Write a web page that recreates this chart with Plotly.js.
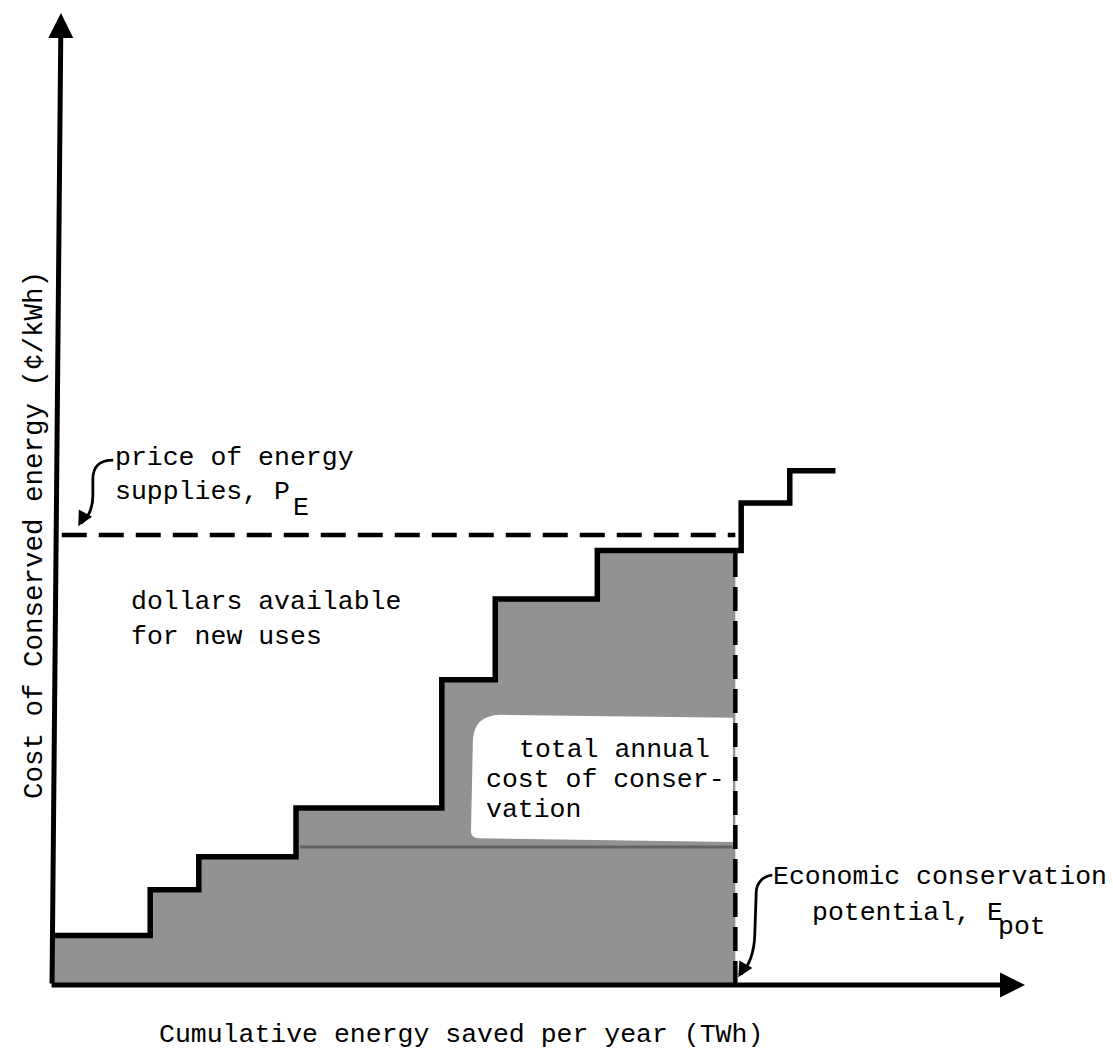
<!DOCTYPE html>
<html>
<head>
<meta charset="utf-8">
<script src="https://cdn.plot.ly/plotly-3.0.1.min.js"></script>
<style>
  html, body { margin: 0; padding: 0; background: #ffffff; }
  #chart { width: 1113px; height: 1050px; }
</style>
</head>
<body>
<div id="chart"></div>
<script>
// ---- data (arbitrary units, no tick values shown) ----
const stepStart = [0, 10, 15, 25, 40, 45.5, 56, 70.8, 75.8];          // cumulative energy saved at the start of each measure
const stepCost  = [5.1, 9.8, 13.2, 18.2, 31.4, 39.7, 44.7, 49.6, 52.9]; // cost of conserved energy of each measure
const curveEnd  = 80.5;          // end of the last measure
const priceEnergy = [46.3];      // price of energy supplies, P_E
const potentialE  = [70.2];      // economic conservation potential, E_pot

const FONT = 'Liberation Mono, DejaVu Sans Mono, monospace';
const FS = 26.5;

// step line (whole supply curve)
const lineX = stepStart.concat([curveEnd]);
const lineY = stepCost.concat([stepCost[stepCost.length - 1]]);

// shaded area: steps up to E_pot
const fillX = [], fillY = [];
for (let i = 0; i < stepStart.length; i++) {
  if (stepStart[i] < potentialE[0]) { fillX.push(stepStart[i]); fillY.push(stepCost[i]); }
}
fillX.push(potentialE[0]); fillY.push(fillY[fillY.length - 1]);

const costAtPot = fillY[fillY.length - 1];

const traces = [
  { x: fillX, y: fillY, type: 'scatter', mode: 'lines', line: { shape: 'hv', width: 0, color: 'rgba(0,0,0,0)' },
    fill: 'tozeroy', fillcolor: '#929292', hoverinfo: 'skip', showlegend: false },
  { x: [0.9, potentialE[0]], y: [priceEnergy[0], priceEnergy[0]], type: 'scatter', mode: 'lines',
    line: { color: '#000', width: 4.5, dash: '25px,12px' }, hoverinfo: 'skip', showlegend: false },
  { x: [potentialE[0], potentialE[0]], y: [0, costAtPot], type: 'scatter', mode: 'lines',
    line: { color: '#000', width: 4.5, dash: '24px,10px' }, hoverinfo: 'skip', showlegend: false },
  { x: lineX, y: lineY, type: 'scatter', mode: 'lines', line: { shape: 'hv', color: '#000', width: 5.5 },
    hoverinfo: 'skip', showlegend: false }
];

function txt(text, x, y, extra) {
  return Object.assign({ text: text, x: x, y: y, xref: 'x', yref: 'y', xanchor: 'left', yanchor: 'middle',
    showarrow: false, font: { family: FONT, size: FS, color: '#000' } }, extra || {});
}

const annotations = [
  // axes with arrows
  { x: 100, y: 0, ax: -0.3, ay: 0, axref: 'x', ayref: 'y', xref: 'x', yref: 'y', text: '',
    showarrow: true, arrowhead: 2, arrowwidth: 5, arrowsize: 1, arrowcolor: '#000' },
  { x: 0.82, y: 100, ax: -0.1, ay: 0, axref: 'x', ayref: 'y', xref: 'x', yref: 'y', text: '',
    showarrow: true, arrowhead: 2, arrowwidth: 5, arrowsize: 1, arrowcolor: '#000' },
  // small arrowheads of the curly pointers
  { x: 2.6, y: 47.2, ax: 6, ay: -11, xref: 'x', yref: 'y', text: '', showarrow: true,
    arrowhead: 2, arrowwidth: 2.5, arrowsize: 1.2, arrowcolor: '#000' },
  { x: 70.5, y: 0.8, ax: 7, ay: -12, xref: 'x', yref: 'y', text: '', showarrow: true,
    arrowhead: 2, arrowwidth: 2.5, arrowsize: 1.2, arrowcolor: '#000' },
  // labels
  txt('price of energy', 6.2, 54.2),
  txt('supplies, P', 6.2, 50.7),
  txt('E', 24.5, 49.1),
  txt('dollars available', 7.8, 39.4),
  txt('for new uses', 7.8, 35.8),
  txt('total annual', 47.7, 24.2),
  txt('cost of conser-', 44.3, 21.1),
  txt('vation', 44.3, 18.0),
  txt('Economic conservation', 73.9, 11.1),
  txt('potential, E', 77.9, 7.4),
  txt('pot', 97.0, 6.0),
  // axis titles (paper-referenced so they can sit outside the plotting area)
  txt('Cumulative energy saved per year (TWh)', 0.42, -0.051, { xref: 'paper', yref: 'paper', xanchor: 'center' }),
  txt('Cost of Conserved energy (¢/kWh)', -0.0185, 0.463, { xref: 'paper', yref: 'paper', xanchor: 'center',
    textangle: -90, font: { family: FONT, size: 27.5, color: '#000' } })
];

const shapes = [
  // white cut-out inside the shaded area
  { type: 'path', xref: 'x', yref: 'y', layer: 'above', line: { width: 0 }, fillcolor: '#ffffff',
    path: 'M 69.95,27.5 L 46.0,27.8 Q 43.3,27.7 43.2,25.2 L 43.0,15.7 Q 43.1,15.1 43.9,15.1 L 69.95,14.7 Z' },
  // scan streak
  { type: 'line', xref: 'x', yref: 'y', layer: 'above', x0: 25.4, x1: 69.9, y0: 14.2, y1: 14.2,
    line: { color: 'rgba(40,40,40,0.45)', width: 3 } },
  // curly pointer for P_E
  { type: 'path', xref: 'x', yref: 'y', layer: 'above', line: { color: '#000', width: 2.8 },
    path: 'M 6.2,54.0 C 4.6,54.0 4.1,53.2 4.1,52.0 L 4.1,50.3 C 4.1,49.0 3.6,48.1 2.9,47.5' },
  // curly pointer for E_pot
  { type: 'path', xref: 'x', yref: 'y', layer: 'above', line: { color: '#000', width: 2.8 },
    path: 'M 74.0,11.3 C 73.1,11.2 72.4,10.6 72.35,9.6 L 72.2,5.2 C 72.15,3.5 71.6,2.0 70.8,1.1' }
];

const layout = {
  width: 1113, height: 1050,
  margin: { l: 53, r: 88, t: 13, b: 65, pad: 0 },
  paper_bgcolor: '#ffffff', plot_bgcolor: '#ffffff',
  xaxis: { range: [0, 100], visible: false, fixedrange: true },
  yaxis: { range: [0, 100], visible: false, fixedrange: true },
  showlegend: false,
  annotations: annotations,
  shapes: shapes,
  font: { family: FONT, color: '#000' }
};

Plotly.newPlot('chart', traces, layout, { displayModeBar: false, staticPlot: true });
</script>
</body>
</html>
